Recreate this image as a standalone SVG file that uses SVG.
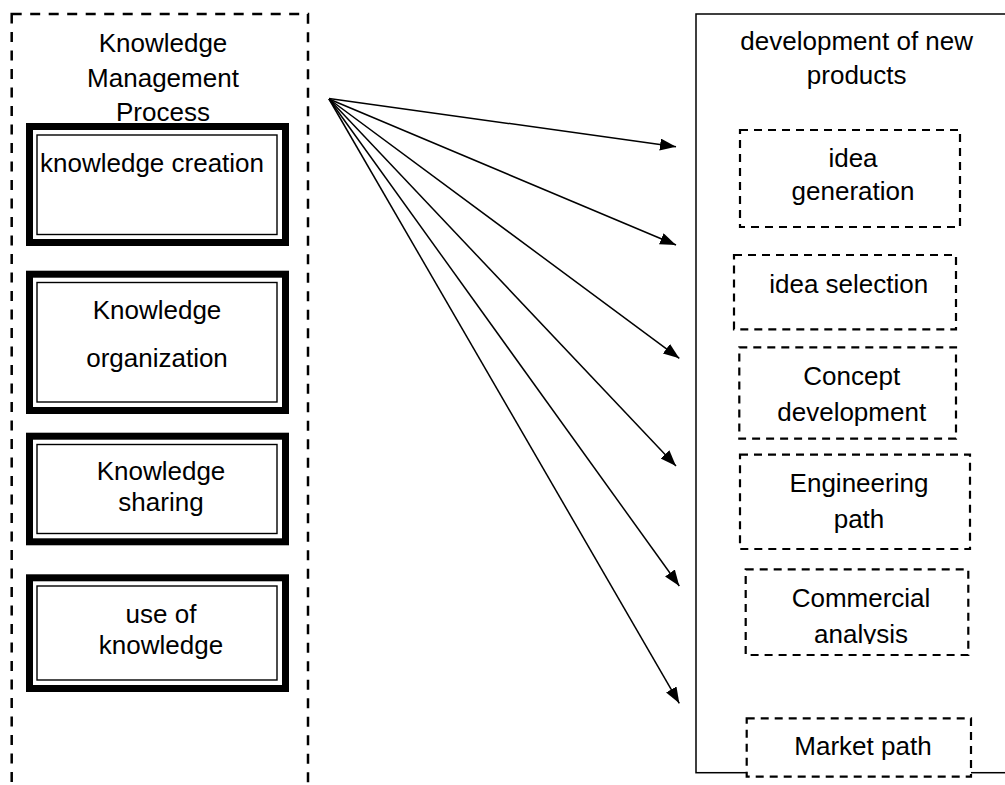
<svg xmlns="http://www.w3.org/2000/svg" width="1005" height="785" viewBox="0 0 1005 785">
<style>
  text { font-family: "Liberation Sans", Arial, sans-serif; font-size: 26px; fill: #000; }
  .c { text-anchor: middle; }
  .container { fill: none; stroke: #000; stroke-width: 2.5; stroke-dasharray: 10 8.5; }
  .outer { fill: #fff; stroke: #000; stroke-width: 1.5; }
  .thick { fill: #fff; stroke: #000; stroke-width: 7; }
  .thin { fill: none; stroke: #000; stroke-width: 1.4; }
  .dbox { fill: #fff; stroke: #000; stroke-width: 2.2; stroke-dasharray: 8 6; }
  .conn { stroke: #000; stroke-width: 1.5; fill: none; marker-end: url(#arrow); }
</style>
<defs>
  <marker id="arrow" markerUnits="userSpaceOnUse" markerWidth="17" markerHeight="13" refX="16" refY="6" orient="auto">
    <path d="M0,0 L16,6 L0,12 z" fill="#000"/>
  </marker>
  <clipPath id="clipAnalysis">
    <rect x="740" y="560" width="240" height="84"/>
  </clipPath>
</defs>
<rect width="1005" height="785" fill="#fff"/>

<g id="km-process">
  <rect class="container" x="11.7" y="14" width="296.3" height="800"/>
  <text class="c" x="163" y="52">Knowledge</text>
  <text class="c" x="163" y="87">Management</text>
  <text class="c" x="163" y="120.5">Process</text>
</g>

<g id="knowledge-creation">
  <rect class="thick" x="29.5" y="126.5" width="256" height="116"/>
  <rect class="thin" x="37" y="135" width="240" height="99.5"/>
  <text x="40" y="171.5">knowledge creation</text>
</g>

<g id="knowledge-organization">
  <rect class="thick" x="29.5" y="274.2" width="256" height="136.3"/>
  <rect class="thin" x="37" y="282.5" width="240" height="119.5"/>
  <text class="c" x="157" y="319">Knowledge</text>
  <text class="c" x="157" y="367">organization</text>
</g>

<g id="knowledge-sharing">
  <rect class="thick" x="29.5" y="436.2" width="256" height="105.6"/>
  <rect class="thin" x="37" y="444.5" width="240" height="89"/>
  <text class="c" x="161" y="480">Knowledge</text>
  <text class="c" x="161" y="511">sharing</text>
</g>

<g id="use-of-knowledge">
  <rect class="thick" x="29.5" y="577.8" width="256" height="110.7"/>
  <rect class="thin" x="37" y="586" width="240" height="94"/>
  <text class="c" x="161" y="622.5">use of</text>
  <text class="c" x="161" y="654">knowledge</text>
</g>

<g id="npd">
  <rect class="outer" x="696" y="14" width="330" height="758.7"/>
  <text class="c" x="856.7" y="50">development of new</text>
  <text class="c" x="856.7" y="84">products</text>
</g>

<g id="idea-generation">
  <rect class="dbox" x="740" y="130" width="220" height="97"/>
  <text class="c" x="853" y="167">idea</text>
  <text class="c" x="853" y="200">generation</text>
</g>

<g id="idea-selection">
  <rect class="dbox" x="734" y="255" width="222" height="74.3"/>
  <text class="c" x="848.7" y="293">idea selection</text>
</g>

<g id="concept-development">
  <rect class="dbox" x="739.3" y="347.3" width="216.7" height="91.4"/>
  <text class="c" x="851.7" y="385">Concept</text>
  <text class="c" x="851.7" y="420.5">development</text>
</g>

<g id="engineering-path">
  <rect class="dbox" x="740" y="454.7" width="230" height="94.3"/>
  <text class="c" x="859" y="491.5">Engineering</text>
  <text class="c" x="859" y="528">path</text>
</g>

<g id="commercial-analysis">
  <rect class="dbox" x="745.7" y="569.3" width="222.6" height="85.7"/>
  <text class="c" x="861" y="606.5">Commercial</text>
  <text class="c" x="861" y="643" clip-path="url(#clipAnalysis)">analysis</text>
</g>

<g id="market-path">
  <rect class="dbox" x="746.7" y="718.3" width="224.3" height="58.4"/>
  <text class="c" x="863" y="755">Market path</text>
</g>

<g id="connectors">
  <line class="conn" x1="329" y1="98.5" x2="676" y2="146.7"/>
  <line class="conn" x1="329" y1="99" x2="676" y2="245"/>
  <line class="conn" x1="329" y1="99" x2="679.3" y2="358.3"/>
  <line class="conn" x1="329" y1="99" x2="676" y2="466"/>
  <line class="conn" x1="329" y1="99" x2="679.3" y2="586"/>
  <line class="conn" x1="329" y1="99" x2="679.3" y2="703.3"/>
</g>
</svg>
